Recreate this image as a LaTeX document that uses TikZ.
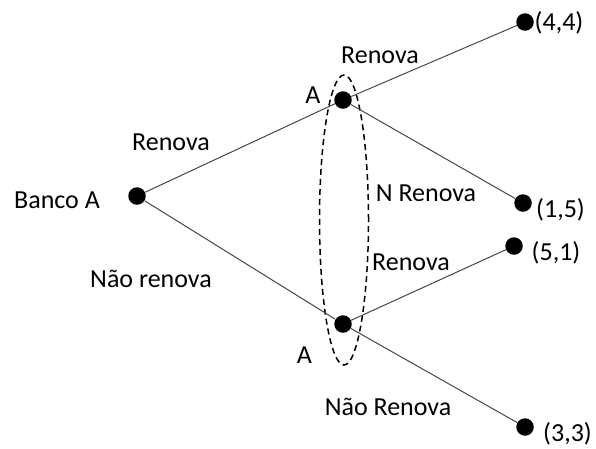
\documentclass[tikz,border=0pt]{standalone}
\usepackage{fontspec}
\setmainfont{Carlito}
\usetikzlibrary{shapes.geometric}
\begin{document}
\begin{tikzpicture}[x=1pt,y=-1pt,
  dot/.style={circle,fill=black,inner sep=0pt,minimum size=17.5pt},
  edge/.style={draw=black!72,line width=1pt},
  lbl/.style={font=\fontsize{26}{30}\selectfont,inner sep=0pt,anchor=base},
  pay/.style={font=\fontsize{26}{30}\selectfont,inner sep=0pt,anchor=center},
  info/.style={draw=black,ellipse,line width=1.5pt,dash pattern=on 6pt off 4pt,minimum width=49pt,minimum height=290pt,inner sep=0pt}]
\useasboundingbox (0,0) rectangle (596,448);
\node[info] (set) at (344,220) {};
\node[dot] (root) at (137,196) {};
\node[dot] (a1) at (343,100) {};
\node[dot] (a2) at (343,324) {};
\node[dot] (l1) at (525,22) {};
\node[dot] (l2) at (523,203) {};
\node[dot] (l3) at (514,246) {};
\node[dot] (l4) at (525,427) {};
\draw[edge] (root) -- (a1);
\draw[edge] (root) -- (a2);
\draw[edge] (a1) -- (l1);
\draw[edge] (a1) -- (l2);
\draw[edge] (a2) -- (l3);
\draw[edge] (a2) -- (l4);
\node[lbl] (tbanco) at (57,208) {Banco A};
\node[lbl] (tr0) at (171,150) {Renova};
\node[lbl] (tn0) at (151,287) {Não renova};
\node[lbl] (ta1) at (313,103) {A};
\node[lbl] (ta2) at (304.5,363) {A};
\node[lbl] (tr1) at (380,63) {Renova};
\node[lbl] (tn1) at (426,201) {N Renova};
\node[lbl] (tr2) at (411,270) {Renova};
\node[lbl] (tn2) at (388,415) {Não Renova};
\node[pay] (p1) at (559,22.5) {(4,4)};
\node[pay] (p2) at (560.5,210) {(1,5)};
\node[pay] (p3) at (556,253) {(5,1)};
\node[pay] (p4) at (567.5,434) {(3,3)};
\end{tikzpicture}
\end{document}
